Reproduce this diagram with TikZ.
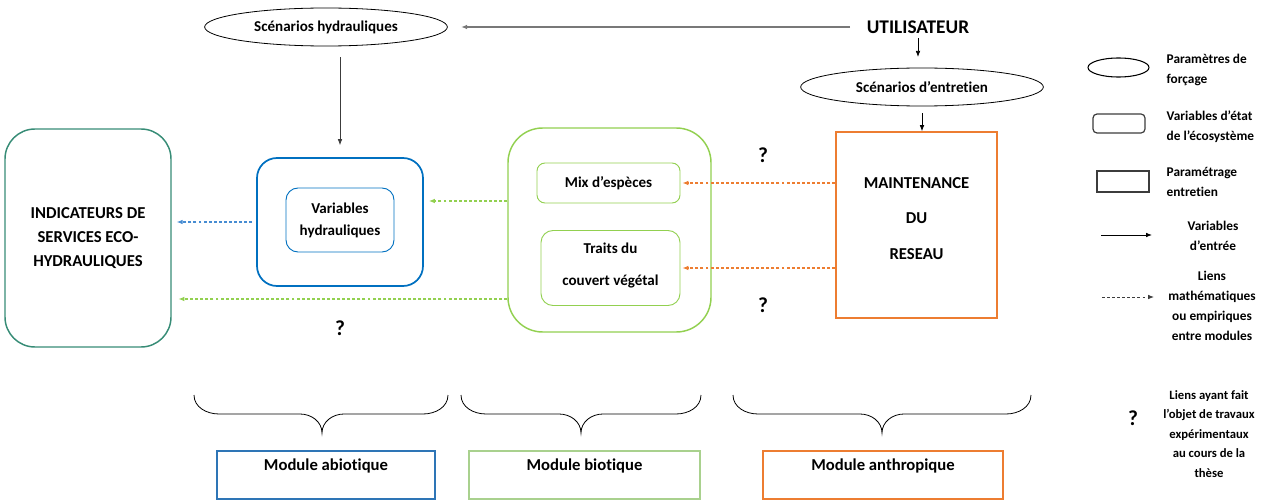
\documentclass[tikz,border=0pt]{standalone}
\usepackage{fontspec}
\setmainfont{Carlito}[Ligatures={NoCommon,NoContextual}]
\usetikzlibrary{shapes.geometric,arrows.meta}

\definecolor{hydblue}{RGB}{0,112,192}
\definecolor{modblue}{RGB}{46,117,182}
\definecolor{lienblue}{RGB}{70,140,210}
\definecolor{biogreen}{RGB}{146,208,80}
\definecolor{modgreen}{RGB}{169,209,142}
\definecolor{anthorange}{RGB}{237,125,49}
\definecolor{indteal}{RGB}{55,140,118}
\definecolor{linkgray}{RGB}{120,120,120}
\definecolor{darkgray}{RGB}{60,60,60}

\tikzset{
  txt/.style={font=\bfseries\fontsize{11.3}{16.5}\selectfont, align=center},
  caps/.style={font=\bfseries\fontsize{12.5}{17.6}\selectfont, align=center},
  legtxt/.style={font=\bfseries\fontsize{10}{15}\selectfont},
  quest/.style={font=\bfseries\fontsize{16}{16}\selectfont},
  forcage/.style={ellipse, draw, line width=0.6pt, inner sep=0pt, txt},
  etat/.style={rectangle, draw, rounded corners=#1, inner sep=0pt},
  entree/.style={-{Latex[length=4.5pt,width=3.5pt]}, line width=0.6pt},
  lien/.style={-{Latex[length=4.5pt,width=3.5pt]}, line width=0.8pt, dash pattern=on 2.2pt off 1.6pt}
}

\begin{document}
\begin{tikzpicture}[x=0.75pt,y=0.75pt]
\useasboundingbox (0,0) rectangle (1265,-503);

\def\ytop{-395};
\def\ymid{-414};
\def\ytip{-433};

\node [forcage, minimum width=182pt, minimum height=28.5pt] (scenhyd) at (326,-27) {Scénarios hydrauliques};
\node [font=\bfseries\fontsize{14.5}{17}\selectfont] (util) at (918,-27) {UTILISATEUR};
\node [forcage, minimum width=182pt, minimum height=28.5pt] (scenent) at (922,-87) {Scénarios d’entretien};

\node [etat=22.5pt, draw=indteal, line width=1.1pt, minimum width=124.5pt, minimum height=163.5pt, caps, font=\bfseries\fontsize{12.5}{18}\selectfont] (indic) at (88,-238) {INDICATEURS DE\\SERVICES ECO-\\HYDRAULIQUES};

\node [etat=15pt, draw=hydblue, line width=1.3pt, minimum width=124.5pt, minimum height=96pt] (hydro) at (340,-222) {};
\node [etat=9pt, draw=hydblue, line width=0.7pt, minimum width=81pt, minimum height=48pt, txt] (hydvar) at (340,-220) {Variables\\hydrauliques};

\node [etat=26pt, draw=biogreen, line width=1.1pt, minimum width=152.25pt, minimum height=153pt] (bio) at (609.5,-230) {};
\node [etat=6pt, draw=biogreen, line width=0.7pt, minimum width=107.25pt, minimum height=30pt, txt] (mix) at (608.5,-183) {Mix d’espèces};
\node [etat=9pt, draw=biogreen, line width=0.7pt, minimum width=104.25pt, minimum height=56.25pt] (traits) at (610.5,-268) {};
\node [txt] (traitstxt) at ([yshift=2pt]traits.center) {Traits du\\[8pt]couvert végétal};

\node [rectangle, draw=anthorange, line width=1.3pt, minimum width=120.75pt, minimum height=139.5pt] (maint) at (916.5,-225) {};
\node [caps] (mainttxt) at ([yshift=4.9pt]maint.center) {MAINTENANCE\\[9pt]DU\\[9pt]RESEAU};

\node [quest] (q1) at (763,-155) {?};
\node [quest] (q2) at (763,-305) {?};
\node [quest] (q3) at (340,-328) {?};

\draw [entree, draw=linkgray, line width=0.9pt, shorten <=9pt, shorten >=10pt] (util.west) -- (scenhyd.east);
\draw [entree, shorten >=8pt] (util.south) -- (util.south |- scenent.north);
\draw [entree, shorten <=5pt] (scenent.south) -- (scenent.south |- maint.north);
\draw [entree, draw=darkgray, shorten <=8pt, shorten >=9pt] (hydro.north |- scenhyd.south) -- (hydro.north);

\coordinate (bioup) at ([yshift=21.75pt]bio.west);
\coordinate (biolow) at ([yshift=-51.75pt]bio.west);
\draw [lien, draw=lienblue, shorten <=3pt, shorten >=3.75pt] (hydro.west) -- (hydro.west -| indic.east);
\draw [lien, draw=biogreen, shorten >=3.75pt] (bioup) -- (bioup -| hydro.east);
\draw [lien, draw=biogreen, shorten >=5pt] (biolow) -- (biolow -| indic.east);
\draw [lien, draw=anthorange, shorten >=1.5pt] (mix.east -| maint.west) -- (mix.east);
\draw [lien, draw=anthorange, shorten >=1.5pt] (traits.east -| maint.west) -- (traits.east);

\foreach \xa/\xt/\xb in {194/322/448, 461/581/701, 733/882/1031}
  \draw [line width=0.6pt] (\xa,\ytop) to [out=-90, in=180] (\xa+25,\ymid) -- (\xt-22,\ymid) to [out=0, in=90] (\xt,\ytip) to [out=90, in=180] (\xt+22,\ymid) -- (\xb-25,\ymid) to [out=0, in=-90] (\xb,\ytop);

\node [rectangle, draw=modblue, line width=0.9pt, minimum width=163.5pt, minimum height=36pt] (abiot) at (326,-475) {};
\node [rectangle, draw=modgreen, line width=0.9pt, minimum width=173.25pt, minimum height=36pt] (biot) at (584.5,-475) {};
\node [rectangle, draw=anthorange, line width=0.9pt, minimum width=180pt, minimum height=36pt] (anth) at (883,-475) {};
\node [txt, font=\bfseries\fontsize{12.5}{15}\selectfont] (abiottxt) at ([yshift=-12pt]abiot.north) {Module abiotique};
\node [txt, font=\bfseries\fontsize{12.5}{15}\selectfont] (biottxt) at ([yshift=-12pt]biot.north) {Module biotique};
\node [txt, font=\bfseries\fontsize{12.5}{15}\selectfont] (anthtxt) at ([yshift=-12pt]anth.north) {Module anthropique};

\node [ellipse, draw, line width=0.8pt, inner sep=0pt, minimum width=45.75pt, minimum height=14.25pt] (legell) at (1118.5,-67.5) {};
\node [legtxt, anchor=west, align=left] (legelltxt) at (1162,-70) {Paramètres de\\forçage};
\node [etat=3pt, draw=darkgray, line width=0.9pt, minimum width=39pt, minimum height=14.25pt] (legetat) at (1119,-123.5) {};
\node [legtxt, anchor=west, align=left] (legetattxt) at (1162,-127) {Variables d’état\\de l’écosystème};
\node [rectangle, draw=darkgray, line width=0.9pt, minimum width=39pt, minimum height=15.75pt] (legrect) at (1123,-181.5) {};
\node [legtxt, anchor=west, align=left] (legrecttxt) at (1162,-182) {Paramétrage\\entretien};
\coordinate (legA) at (1101,-235);
\coordinate (legB) at (1152,-235);
\draw [entree] (legA) -- (legB);
\node [legtxt, align=center] (legAtxt) at (1213,-236) {Variables\\d’entrée};
\coordinate (legC) at (1102,-297);
\coordinate (legD) at (1154,-297);
\draw [lien, draw=darkgray, line width=0.6pt] (legC) -- (legD);
\node [legtxt, align=center] (legCtxt) at (1212,-306) {Liens\\mathématiques\\ou empiriques\\entre modules};
\node [quest] (legq) at (1133,-418) {?};
\node [legtxt, align=center, font=\bfseries\fontsize{9.5}{14.6}\selectfont] (legqtxt) at (1209,-434) {Liens ayant fait\\l’objet de travaux\\expérimentaux\\au cours de la\\thèse};

\end{tikzpicture}
\end{document}
